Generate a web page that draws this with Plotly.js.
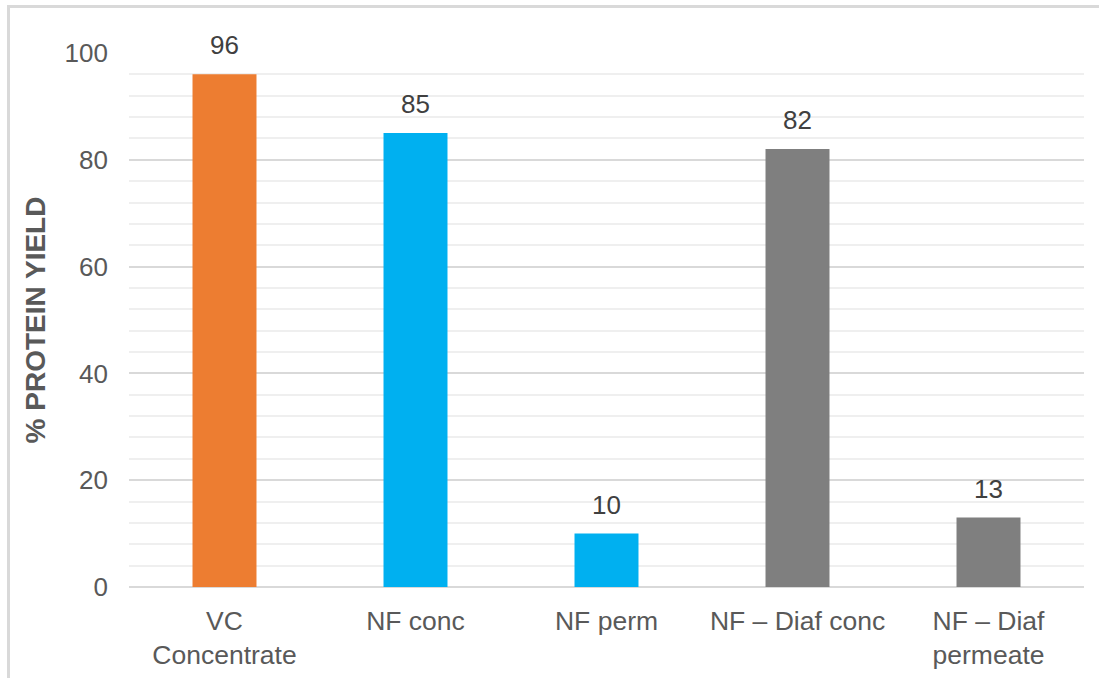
<!DOCTYPE html>
<html>
<head>
<meta charset="utf-8">
<script src="https://cdn.plot.ly/plotly-3.0.1.min.js"></script>
<style>
html,body{margin:0;padding:0;background:#fff;}
#wrap{position:relative;width:1099px;height:678px;}
#chart{width:1099px;height:678px;}
#frame{position:absolute;left:7px;top:5px;right:-5px;bottom:-5px;border-left:3px solid #D9D9D9;border-top:3px solid #D9D9D9;pointer-events:none;}
</style>
</head>
<body>
<div id="wrap"><div id="chart"></div><div id="frame"></div></div>
<script>
const categories = ["VC<br>Concentrate", "NF conc", "NF perm", "NF – Diaf conc", "NF – Diaf<br>permeate"];
const values = [96, 85, 10, 82, 13];
const barColors = ["#ED7D31", "#00B0F0", "#00B0F0", "#7F7F7F", "#7F7F7F"];
const yTicks = [0, 20, 40, 60, 80, 100];

const font = "Liberation Sans, Arial, sans-serif";

const trace = {
  type: "bar",
  x: categories,
  y: values,
  marker: {color: barColors},
  hoverinfo: "none"
};

const annotations = categories.map((c, i) => ({
  x: c, y: values[i], xref: "x", yref: "y",
  text: String(values[i]),
  showarrow: false, yanchor: "bottom", yshift: 12,
  font: {family: font, size: 26, color: "#404040"}
}));

const layout = {
  width: 1099, height: 678,
  margin: {l: 129, r: 15, t: 53, b: 91},
  paper_bgcolor: "#fff", plot_bgcolor: "#fff",
  showlegend: false,
  bargap: 0.665,
  font: {family: font, color: "#595959", size: 26},
  xaxis: {
    type: "category",
    showgrid: false,
    showline: false,
    zeroline: false,
    tickfont: {family: font, size: 26.5, color: "#595959"},
    ticklabelstandoff: 15
  },
  yaxis: {
    range: [0, 100],
    tickvals: yTicks,
    ticktext: yTicks.map(String),
    showgrid: true,
    gridcolor: "#D9D9D9",
    gridwidth: 2,
    zeroline: true,
    zerolinecolor: "#D9D9D9",
    zerolinewidth: 2,
    showline: false,
    minor: {dtick: 4, tick0: 0, showgrid: true, gridcolor: "#EFEFEF", gridwidth: 2},
    tickfont: {family: font, size: 26, color: "#595959"},
    ticklabelstandoff: 20,
    title: {text: "% PROTEIN YIELD", font: {family: font, size: 28, color: "#595959", weight: "bold"}, standoff: 10}
  },
  annotations: annotations
};

Plotly.newPlot("chart", [trace], layout, {displayModeBar: false, staticPlot: true});
</script>
</body>
</html>
